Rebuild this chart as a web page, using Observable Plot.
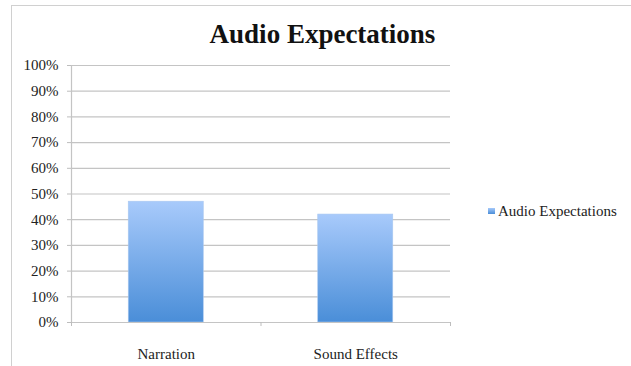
<!DOCTYPE html>
<html>
<head>
<meta charset="utf-8">
<script src="https://cdn.jsdelivr.net/npm/d3@7"></script>
<script src="https://cdn.jsdelivr.net/npm/@observablehq/plot@0.6"></script>
<style>
  html, body { margin: 0; padding: 0; background: #fff; }
  #wrap { position: relative; width: 631px; height: 366px; overflow: hidden; font-family: "Liberation Serif", serif; }
  #frame { position: absolute; left: 11px; top: 5px; width: 1000px; height: 1000px; border-left: 1.5px solid #d0d0d0; border-top: 1.5px solid #d0d0d0; }
  #title { position: absolute; left: 0; width: 645px; top: 20.5px; text-align: center; font-size: 27px; font-weight: bold; line-height: 1; color: #111; }
  #chart { position: absolute; left: 0; top: 0; }
  #legend { position: absolute; left: 488px; top: 202px; font-size: 15px; color: #222; white-space: nowrap; line-height: 18px; }
  #legend .sw { display: inline-block; width: 7px; height: 6px; background: linear-gradient(#a6c9fa, #4a8ed8); margin-right: 3px; vertical-align: 2px; }
</style>
</head>
<body>
<div id="wrap">
  <div id="frame"></div>
  <div id="chart"></div>
  <div id="title">Audio Expectations</div>
  <div id="legend"><span class="sw"></span>Audio Expectations</div>
</div>
<script>
const categories = ["Narration", "Sound Effects"];
const seriesName = "Audio Expectations";
const values = [0.47, 0.42];
const yTicks = [0, 0.1, 0.2, 0.3, 0.4, 0.5, 0.6, 0.7, 0.8, 0.9, 1.0];

const data = categories.map((c, i) => ({category: c, index: i, value: values[i]}));
const barPad = 0.302;

const svg = Plot.plot({
  width: 631,
  height: 366,
  marginLeft: 71,
  marginRight: 181,
  marginTop: 65,
  marginBottom: 44,
  style: {fontFamily: "Liberation Serif", fontSize: "15px", color: "#222", background: "transparent"},
  x: {domain: [0, categories.length]},
  y: {domain: [0, 1]},
  marks: [
    Plot.ruleY(yTicks, {stroke: "#c4c4c4", strokeWidth: 1.2}),
    Plot.rectY(data, {x1: d => d.index + barPad, x2: d => d.index + 1 - barPad, y1: 0, y2: "value", fill: "url(#barGrad)", stroke: "#a9c8f0", strokeWidth: 0.6}),
    Plot.ruleX([0], {y1: 0, y2: 1, stroke: "#c4c4c4", strokeWidth: 1.2}),
    Plot.ruleY([0], {stroke: "#c4c4c4", strokeWidth: 1.2}),
    Plot.axisY({ticks: yTicks, tickFormat: d3.format(".0%"), tickSize: 4, tickPadding: 9, stroke: "#bdbdbd", fill: "#222", label: null}),
    Plot.axisX({ticks: d3.range(categories.length + 1), tickFormat: () => "", tickSize: 4, stroke: "#bdbdbd", label: null}),
    Plot.axisX({ticks: categories.map((c, i) => i + 0.5), tickFormat: d => categories[Math.floor(d)], tickSize: 0, tickPadding: 26, fill: "#222", label: null})
  ]
});

const defs = d3.select(svg).insert("defs", ":first-child");
const g = defs.append("linearGradient").attr("id", "barGrad").attr("x1", 0).attr("y1", 0).attr("x2", 0).attr("y2", 1);
g.append("stop").attr("offset", "0%").attr("stop-color", "#a8cafb");
g.append("stop").attr("offset", "100%").attr("stop-color", "#4a8ed8");

document.getElementById("chart").appendChild(svg);
</script>
</body>
</html>
